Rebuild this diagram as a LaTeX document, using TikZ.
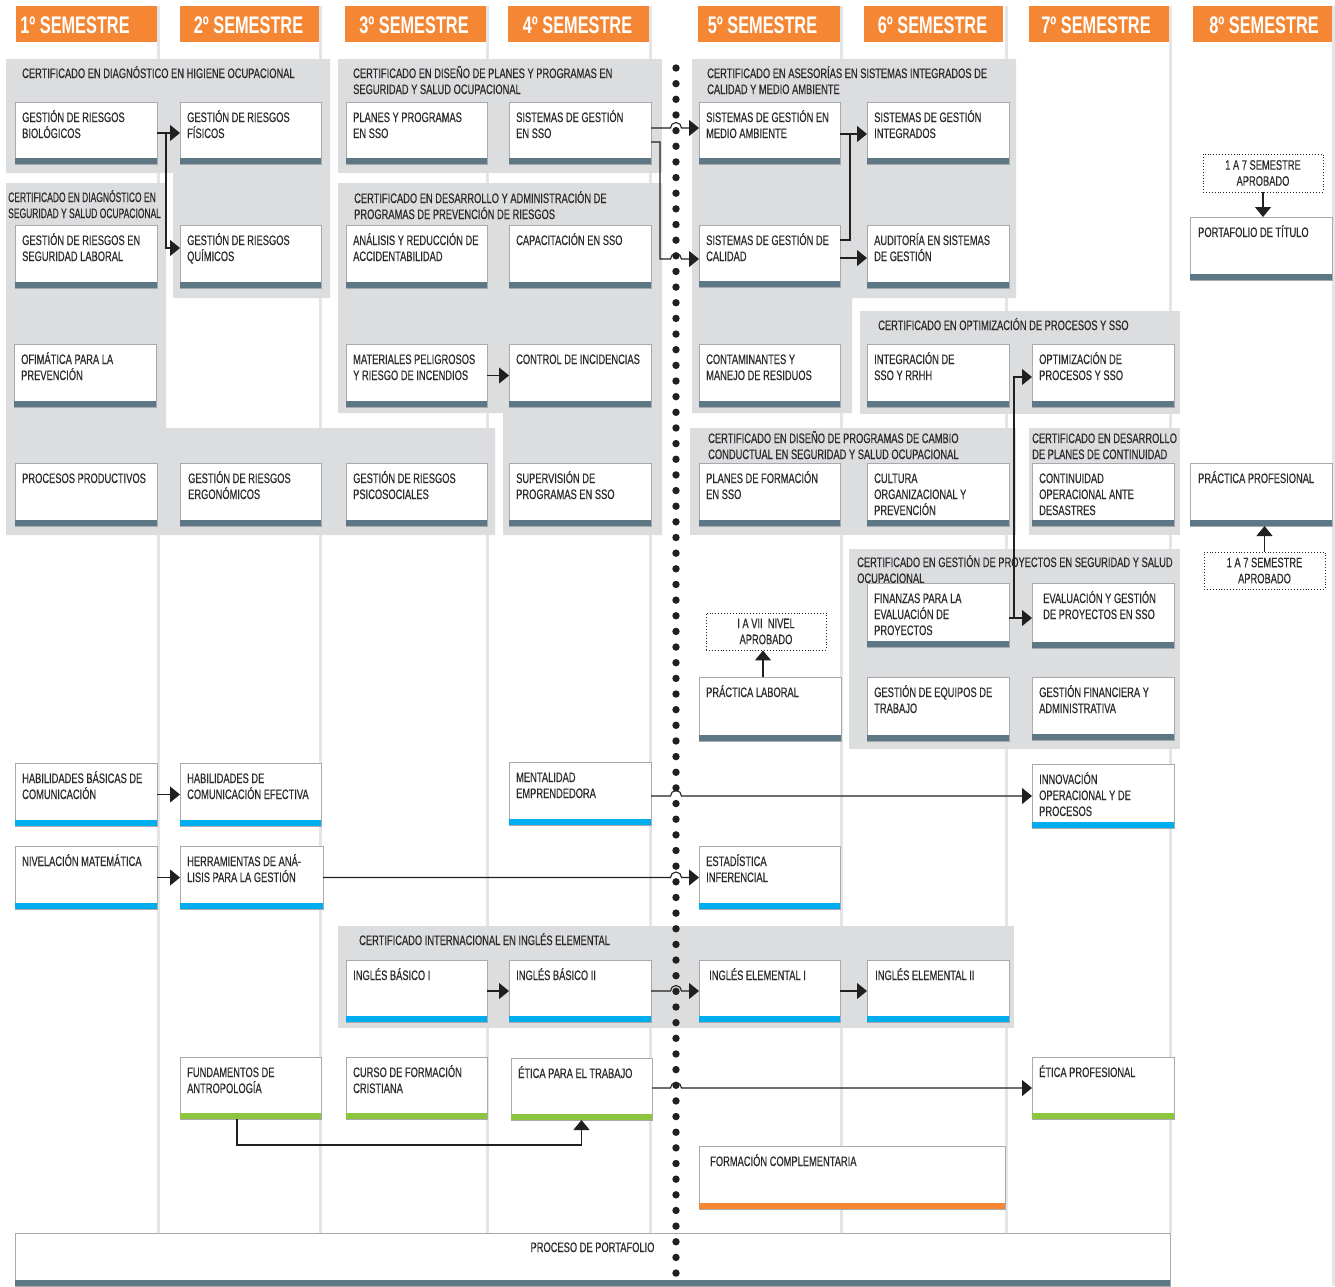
\documentclass[tikz,border=0pt]{standalone}
\usepackage{fontspec}
\setmainfont{Liberation Sans}[FakeStretch=0.68, UprightFeatures={FakeBold=0.35}]
\newfontfamily\narrowf{Liberation Sans}[FakeStretch=0.62, FakeBold=0.35]
\usetikzlibrary{arrows.meta}
\definecolor{orng}{HTML}{F58634}
\definecolor{pan}{HTML}{DCDDDF}
\definecolor{slate}{HTML}{5E7785}
\definecolor{cyanb}{HTML}{00AEEF}
\definecolor{grn}{HTML}{8CC63F}
\definecolor{bord}{HTML}{A7A9AC}
\definecolor{sepc}{HTML}{E4E5E6}
\definecolor{txt}{HTML}{2B2A2B}
\definecolor{arrc}{HTML}{231F20}
\newcommand\boxfont{\fontsize{13.7pt}{16pt}\selectfont}
\newcommand\course[8][7]{%
  \node[cbox, minimum width=#5pt, minimum height=#6pt] (#2) at (#3,#4) {};
  \fill[#7] ([yshift=6pt]#2.south west) rectangle ([yshift=-0.4pt]#2.south east);
  \node[ctext] (#2-t) at ([xshift=#1pt,yshift=-20pt]#2.north west) {\parbox[t]{#5pt}{\raggedright #8}};}
\newcommand\ptitle[4]{%
  \node[ctext] (#1) at (#2,#3) {\parbox[t]{420pt}{\raggedright #4}};}
\begin{document}
\begin{tikzpicture}[x=1pt,y=-1pt,
  cbox/.style={draw=bord, line width=0.8pt, fill=white, anchor=north west, inner sep=0pt, outer sep=0pt},
  ctext/.style={anchor=base west, inner sep=0pt, font=\boxfont, text=txt},
  hdr/.style={fill=orng, anchor=north west, minimum height=36pt, inner sep=0pt, outer sep=0pt},
  htext/.style={anchor=base, text=white, font=\fontsize{24pt}{24pt}\selectfont\bfseries, inner sep=0pt},
  dotbox/.style={draw=arrc, line width=0.9pt, dash pattern=on 0.9pt off 2pt, align=center, font=\boxfont, text=txt, inner sep=0pt, fill=white},
  arr/.style={draw=arrc, line width=1.1pt, -{Triangle[length=10pt,width=16pt]}},
  conn/.style={draw=arrc, line width=1.1pt}]
\useasboundingbox (0,0) rectangle (1335,1286);
\fill[white] (0,0) rectangle (1335,1286);
% column separators
\foreach \sx in {157,319,486,649,840,1005,1169} \fill[sepc] (\sx,6) rectangle ({\sx+3},1233);
\fill[sepc] (1332,6) rectangle (1335,1286);
% certificate panels
\fill[pan] (6,59) -- (330,59) -- (330,298) -- (173,298) -- (173,173) -- (6,173) -- cycle;
\fill[pan] (6,183) -- (166,183) -- (166,428) -- (495,428) -- (495,535) -- (6,535) -- cycle;
\fill[pan] (338,59) rectangle (662,173);
\fill[pan] (338,183) -- (662,183) -- (662,535) -- (503,535) -- (503,413) -- (338,413) -- cycle;
\fill[pan] (692,59) -- (1016,59) -- (1016,298) -- (852,298) -- (852,413) -- (692,413) -- cycle;
\fill[pan] (860,311) rectangle (1180,414);
\fill[pan] (690,428) rectangle (1016,535);
\fill[pan] (1029,428) rectangle (1180,535);
\fill[pan] (849,549) rectangle (1180,749);
\fill[pan] (338,926) rectangle (1014,1028);
% headers
\node[hdr, minimum width=141pt] (h1) at (16,6) {};
\node[hdr, minimum width=139pt] (h2) at (180,6) {};
\node[hdr, minimum width=141pt] (h3) at (345,6) {};
\node[hdr, minimum width=141pt] (h4) at (508,6) {};
\node[hdr, minimum width=142pt] (h5) at (698,6) {};
\node[hdr, minimum width=139pt] (h6) at (864,6) {};
\node[hdr, minimum width=140pt] (h7) at (1029,6) {};
\node[hdr, minimum width=139pt] (h8) at (1193,6) {};
\node[htext] (h1t) at (75,33) {1º SEMESTRE};
\node[htext] (h2t) at (248.5,33) {2º SEMESTRE};
\node[htext] (h3t) at (414,33) {3º SEMESTRE};
\node[htext] (h4t) at (577.5,33) {4º SEMESTRE};
\node[htext] (h5t) at (762.5,33) {5º SEMESTRE};
\node[htext] (h6t) at (932.5,33) {6º SEMESTRE};
\node[htext] (h7t) at (1096,33) {7º SEMESTRE};
\node[htext] (h8t) at (1264,33) {8º SEMESTRE};
% panel titles
\ptitle{thig}{22}{78}{CERTIFICADO EN DIAGNÓSTICO EN HIGIENE OCUPACIONAL}
\node[ctext, font=\narrowf\fontsize{13.7pt}{16pt}\selectfont] (tseg) at (8,202) {\parbox[t]{200pt}{\raggedright CERTIFICADO EN DIAGNÓSTICO EN\\SEGURIDAD Y SALUD OCUPACIONAL}};
\ptitle{tdpl}{353}{78}{CERTIFICADO EN DISEÑO DE PLANES Y PROGRAMAS EN\\SEGURIDAD Y SALUD OCUPACIONAL}
\ptitle{tdad}{354}{203}{CERTIFICADO EN DESARROLLO Y ADMINISTRACIÓN DE\\PROGRAMAS DE PREVENCIÓN DE RIESGOS}
\ptitle{tase}{707}{78}{CERTIFICADO EN ASESORÍAS EN SISTEMAS INTEGRADOS DE\\CALIDAD Y MEDIO AMBIENTE}
\ptitle{topt}{878}{330}{CERTIFICADO EN OPTIMIZACIÓN DE PROCESOS Y SSO}
\ptitle{tcon}{708}{443}{CERTIFICADO EN DISEÑO DE PROGRAMAS DE CAMBIO\\CONDUCTUAL EN SEGURIDAD Y SALUD OCUPACIONAL}
\ptitle{tcnt}{1032}{443}{CERTIFICADO EN DESARROLLO\\DE PLANES DE CONTINUIDAD}
\ptitle{tpry}{857}{567}{CERTIFICADO EN GESTIÓN DE PROYECTOS EN SEGURIDAD Y SALUD\\OCUPACIONAL}
\ptitle{ting}{359}{945}{CERTIFICADO INTERNACIONAL EN INGLÉS ELEMENTAL}
% courses
\course{bio}{15}{102}{142}{62}{slate}{GESTIÓN DE RIESGOS\\BIOLÓGICOS}
\course{fis}{180}{102}{141}{62}{slate}{GESTIÓN DE RIESGOS\\FÍSICOS}
\course{pyp}{346}{102}{141}{62}{slate}{PLANES Y PROGRAMAS\\EN SSO}
\course{sso}{509}{102}{142}{62}{slate}{SISTEMAS DE GESTIÓN\\EN SSO}
\course{medamb}{699}{102}{141}{62}{slate}{SISTEMAS DE GESTIÓN EN\\MEDIO AMBIENTE}
\course{integ}{867}{102}{142}{62}{slate}{SISTEMAS DE GESTIÓN\\INTEGRADOS}
\course{seglab}{15}{225}{142}{63}{slate}{GESTIÓN DE RIESGOS EN\\SEGURIDAD LABORAL}
\course{qui}{180}{225}{141}{63}{slate}{GESTIÓN DE RIESGOS\\QUÍMICOS}
\course{anal}{346}{225}{141}{63}{slate}{ANÁLISIS Y REDUCCIÓN DE\\ACCIDENTABILIDAD}
\course{capac}{509}{225}{142}{63}{slate}{CAPACITACIÓN EN SSO}
\course{cal}{699}{225}{141}{62}{slate}{SISTEMAS DE GESTIÓN DE\\CALIDAD}
\course{aud}{867}{225}{142}{63}{slate}{AUDITORÍA EN SISTEMAS\\DE GESTIÓN}
\course{ofim}{14}{344}{142}{63}{slate}{OFIMÁTICA PARA LA\\PREVENCIÓN}
\course{mat}{346}{344}{141}{63}{slate}{MATERIALES PELIGROSOS\\Y RIESGO DE INCENDIOS}
\course{ctrl}{509}{344}{142}{63}{slate}{CONTROL DE INCIDENCIAS}
\course{contam}{699}{344}{141}{63}{slate}{CONTAMINANTES Y\\MANEJO DE RESIDUOS}
\course{intrh}{867}{344}{142}{63}{slate}{INTEGRACIÓN DE\\SSO Y RRHH}
\course{opt}{1032}{344}{142}{63}{slate}{OPTIMIZACIÓN DE\\PROCESOS Y SSO}
\course{proc}{15}{463}{142}{63}{slate}{PROCESOS PRODUCTIVOS}
\course[8]{ergo}{180}{463}{141}{63}{slate}{GESTIÓN DE RIESGOS\\ERGONÓMICOS}
\course{psico}{346}{463}{141}{63}{slate}{GESTIÓN DE RIESGOS\\PSICOSOCIALES}
\course{superv}{509}{463}{142}{63}{slate}{SUPERVISIÓN DE\\PROGRAMAS EN SSO}
\course{planf}{699}{463}{141}{63}{slate}{PLANES DE FORMACIÓN\\EN SSO}
\course{cult}{867}{463}{142}{63}{slate}{CULTURA\\ORGANIZACIONAL Y\\PREVENCIÓN}
\course{cont}{1032}{463}{142}{63}{slate}{CONTINUIDAD\\OPERACIONAL ANTE\\DESASTRES}
\course[8]{pprof}{1190}{463}{142}{63}{slate}{PRÁCTICA PROFESIONAL}
\course[8]{portit}{1190}{217}{142}{63}{slate}{PORTAFOLIO DE TÍTULO}
\course{fin}{867}{583}{142}{64}{slate}{FINANZAS PARA LA\\EVALUACIÓN DE\\PROYECTOS}
\course[11]{eval}{1032}{583}{142}{65}{slate}{EVALUACIÓN Y GESTIÓN\\DE PROYECTOS EN SSO}
\course{plab}{699}{677}{142}{64}{slate}{PRÁCTICA LABORAL}
\course{equip}{867}{677}{142}{64}{slate}{GESTIÓN DE EQUIPOS DE\\TRABAJO}
\course{gfin}{1032}{677}{142}{63}{slate}{GESTIÓN FINANCIERA Y\\ADMINISTRATIVA}
\course{habb}{15}{763}{142}{63}{cyanb}{HABILIDADES BÁSICAS DE\\COMUNICACIÓN}
\course{habe}{180}{763}{141}{63}{cyanb}{HABILIDADES DE\\COMUNICACIÓN EFECTIVA}
\course{ment}{509}{762}{142}{63}{cyanb}{MENTALIDAD\\EMPRENDEDORA}
\course{innov}{1032}{764}{142}{64}{cyanb}{INNOVACIÓN\\OPERACIONAL Y DE\\PROCESOS}
\course{niv}{15}{846}{142}{63}{cyanb}{NIVELACIÓN MATEMÁTICA}
\course{herr}{180}{846}{143}{63}{cyanb}{HERRAMIENTAS DE ANÁ-\\LISIS PARA LA GESTIÓN}
\course{estad}{699}{846}{141}{63}{cyanb}{ESTADÍSTICA\\INFERENCIAL}
\course{ing1}{346}{960}{141}{62}{cyanb}{INGLÉS BÁSICO I}
\course{ing2}{509}{960}{142}{62}{cyanb}{INGLÉS BÁSICO II}
\course[10]{inge1}{699}{960}{141}{62}{cyanb}{INGLÉS ELEMENTAL I}
\course[8]{inge2}{867}{960}{142}{62}{cyanb}{INGLÉS ELEMENTAL II}
\course{fund}{180}{1057}{141}{62}{grn}{FUNDAMENTOS DE\\ANTROPOLOGÍA}
\course{crist}{346}{1057}{141}{62}{grn}{CURSO DE FORMACIÓN\\CRISTIANA}
\course{etica}{511}{1058}{141}{62}{grn}{ÉTICA PARA EL TRABAJO}
\course{eticap}{1032}{1057}{142}{62}{grn}{ÉTICA PROFESIONAL}
\course[11]{formc}{699}{1146}{306}{63}{orng}{FORMACIÓN COMPLEMENTARIA}
\node[cbox, minimum width=1155pt, minimum height=53pt] (portaf) at (15,1233) {};
\fill[slate] ([yshift=6pt]portaf.south west) rectangle (portaf.south east);
\node[ctext, anchor=base] (portaf-t) at ([yshift=-19pt]portaf.north) {PROCESO DE PORTAFOLIO};
% dotted requirement boxes
\node[dotbox, minimum width=120pt, minimum height=38pt] (ap1) at (1263,173) {1 A 7 SEMESTRE\\APROBADO};
\node[dotbox, minimum width=121pt, minimum height=37pt] (ap2) at (1264.5,570.5) {1 A 7 SEMESTRE\\APROBADO};
\node[dotbox, minimum width=120pt, minimum height=37pt] (nivel) at (766,631.5) {I A VII\ \ NIVEL\\APROBADO};
% dotted divider
\foreach \i in {0,...,77} \fill[arrc] (676,{68+15.65*\i}) circle[radius=3.7pt];
% connectors
\coordinate (dlL) at (670.5,0);
\coordinate (jb) at (166,0);
\coordinate (js) at (660,0);
\coordinate (jc) at (850,0);
\coordinate (jf) at (1014,0);
\coordinate (quiIn) at ([yshift=-23pt]qui.north west);
\coordinate (maIn) at ([yshift=-26pt]medamb.north west);
\coordinate (calIn) at ([yshift=-34pt]cal.north west);
\coordinate (intIn) at ([yshift=-32pt]integ.north west);
\coordinate (finOut) at ([yshift=-35pt]fin.north east);
\coordinate (plOut) at ([xshift=64pt]plab.north west);
\draw[arr] (bio.east) -- (fis.west);
\draw[arr] (jb |- bio.east) -- (jb |- quiIn) -- (quiIn);
\draw[arr] (mat.east) -- (ctrl.west);
\draw[arr] (sso.east |- maIn) -- (dlL |- maIn) arc[start angle=180,end angle=0,radius=5.5pt] -- (maIn);
\draw[arr] ([yshift=-40pt]sso.north east) -| (js |- calIn) -- (dlL |- calIn) arc[start angle=180,end angle=0,radius=5.5pt] -- (calIn);
\draw[arr] (medamb.east |- intIn) -- (intIn);
\draw[conn] ([yshift=-15pt]cal.north east) -| (jc |- intIn);
\draw[arr] ([yshift=-33pt]cal.north east) -- ([yshift=-33pt]aud.north west);
\draw[arr] (finOut) -- (eval.west |- finOut);
\draw[arr] (jf |- finOut) |- ([yshift=-33pt]opt.north west);
\draw[arr] (plOut) -- (plOut |- nivel.south);
\draw[arr] (ap2.north) -- (ap2.north |- pprof.south);
\draw[arr] (ap1.south) -- (ap1.south |- portit.north);
\draw[arr] (habb.east) -- (habe.west);
\draw[arr] (ment.east |- innov.west) -- (dlL |- innov.west) arc[start angle=180,end angle=0,radius=5.5pt] -- (innov.west);
\draw[arr] (niv.east) -- (herr.west);
\draw[arr] (herr.east) -- (dlL |- herr.east) arc[start angle=180,end angle=0,radius=5.5pt] -- (estad.west);
\draw[arr] (ing1.east) -- (ing2.west);
\draw[arr] (ing2.east) -- (dlL |- ing2.east) arc[start angle=180,end angle=0,radius=5.5pt] -- (inge1.west);
\draw[arr] (inge1.east) -- (inge2.west);
\draw[arr] (etica.east |- eticap.west) -- (dlL |- eticap.west) arc[start angle=180,end angle=0,radius=5.5pt] -- (eticap.west);
\draw[arr] ([xshift=57pt]fund.south west) -- ++(0,26) -| (etica.south);
\end{tikzpicture}
\end{document}
